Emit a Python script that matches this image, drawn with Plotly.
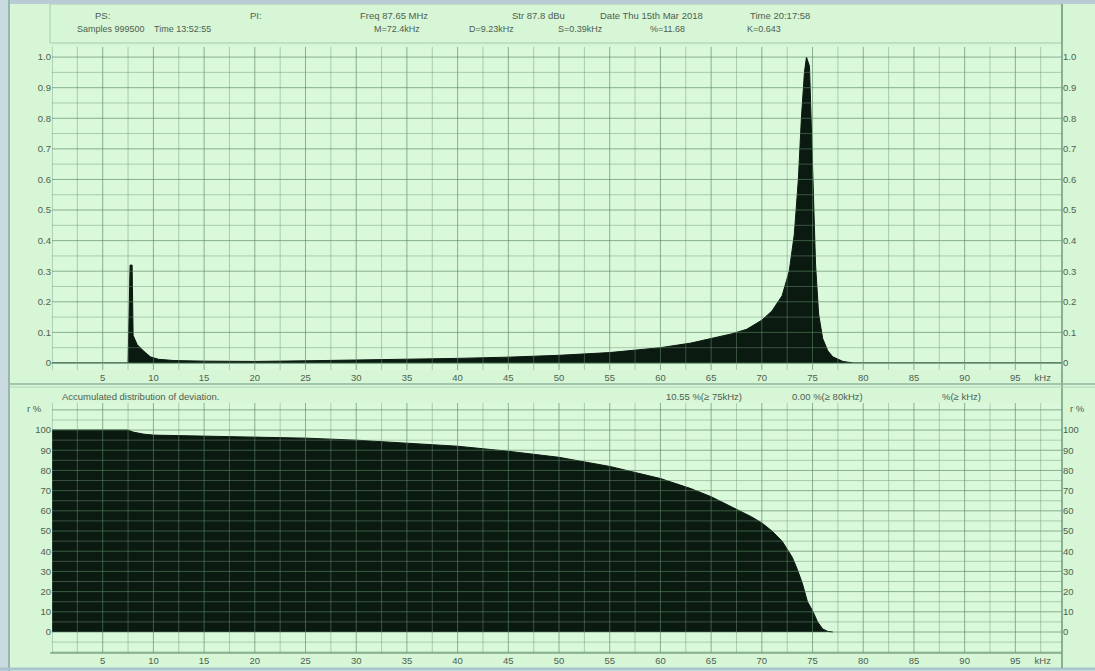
import plotly.graph_objects as go

# ---------------- data ----------------
dev_khz = [0, 7.5, 7.7, 7.9, 8.0, 8.4, 9.0, 9.7, 10.5, 12, 15, 20, 25, 30, 35, 40, 45,
           50, 55, 60, 63, 65, 67, 68.5, 70, 71, 72, 72.7, 73.2, 73.6, 73.9, 74.2,
           74.4, 74.7, 75.0, 75.3, 75.6, 76, 76.5, 77, 78, 79, 99.6]
dev_level = [0, 0, 0.32, 0.32, 0.09, 0.06, 0.04, 0.02, 0.012, 0.008, 0.006, 0.005, 0.007,
             0.009, 0.012, 0.015, 0.019, 0.025, 0.034, 0.05, 0.065, 0.08, 0.095, 0.11,
             0.14, 0.17, 0.22, 0.3, 0.42, 0.6, 0.8, 0.95, 1.0, 0.97, 0.68, 0.32, 0.16,
             0.08, 0.04, 0.02, 0.005, 0, 0]

acc_khz = [0, 7.5, 8, 9, 10, 15, 20, 25, 30, 35, 40, 45, 50, 55, 60, 63, 65, 67, 69, 70,
           71, 72, 73, 73.5, 74, 74.5, 75, 75.5, 76, 76.5, 77]
acc_pct = [100, 100, 99, 98, 97.5, 97, 96.5, 96, 95, 93.5, 92, 89.5, 86.5, 82, 76, 71, 67,
           62, 57, 54, 50, 45, 37, 31, 24, 15, 10.55, 5, 1.5, 0.3, 0]

x_tick_vals = [5, 10, 15, 20, 25, 30, 35, 40, 45, 50, 55, 60, 65, 70, 75, 80, 85, 90, 95]
x_tick_text = [str(v) for v in x_tick_vals]
x_unit = "kHz"
top_tick_vals = [0, 0.1, 0.2, 0.3, 0.4, 0.5, 0.6, 0.7, 0.8, 0.9, 1.0]
top_tick_text = ["0", "0.1", "0.2", "0.3", "0.4", "0.5", "0.6", "0.7", "0.8", "0.9", "1.0"]
bot_tick_vals = [0, 10, 20, 30, 40, 50, 60, 70, 80, 90, 100]
bot_tick_text = [str(v) for v in bot_tick_vals]

header_row1 = ["PS:", "PI:", "Freq 87.65 MHz", "Str 87.8 dBu", "Date Thu 15th Mar 2018", "Time 20:17:58"]
header_row2 = ["Samples 999500", "Time 13:52:55", "M=72.4kHz", "D=9.23kHz", "S=0.39kHz", "%=11.68", "K=0.643"]
bottom_title = "Accumulated distribution of deviation."
bottom_stats = ["10.55 %(≥ 75kHz)", "0.00 %(≥ 80kHz)", "%(≥ kHz)"]
y_unit_bottom = "r %"

# ---------------- geometry helpers ----------------
W, H = 1095, 671
def px(x):
    return x / W
def py(y):
    return 1 - y / H

X_RANGE = [0, 99.6]
TOP_RANGE = [-0.023, 1.033]
BOT_RANGE = [-10.4, 113.4]

BG = "#d6f6d6"
PLOT_BG = "#daf8da"
DARK = "#0b1a10"
TXT = "#4f604f"
FONT = dict(family="Liberation Sans, Arial, sans-serif", size=9.5, color=TXT)
FONT_S = dict(family="Liberation Sans, Arial, sans-serif", size=9, color=TXT)

fig = go.Figure()

# top panel: deviation distribution
fig.add_trace(go.Scatter(x=dev_khz, y=dev_level, mode="lines", fill="tozeroy",
                         line=dict(color=DARK, width=1), fillcolor=DARK,
                         xaxis="x", yaxis="y", hoverinfo="skip", showlegend=False))
fig.add_trace(go.Scatter(x=dev_khz, y=dev_level, mode="lines", line=dict(width=0),
                         opacity=0, xaxis="x", yaxis="y3", hoverinfo="skip", showlegend=False))
# bottom panel: accumulated distribution
fig.add_trace(go.Scatter(x=acc_khz, y=acc_pct, mode="lines", fill="tozeroy",
                         line=dict(color=DARK, width=1), fillcolor=DARK,
                         xaxis="x2", yaxis="y2", hoverinfo="skip", showlegend=False))
fig.add_trace(go.Scatter(x=acc_khz, y=acc_pct, mode="lines", line=dict(width=0),
                         opacity=0, xaxis="x2", yaxis="y4", hoverinfo="skip", showlegend=False))

top_dom = [py(370), py(47)]
bot_dom = [py(653), py(403)]
x_dom = [px(52), px(1062)]

xcommon = dict(range=X_RANGE, showgrid=False, zeroline=False, showline=False,
               tickmode="array", tickvals=x_tick_vals + [97.7], ticktext=x_tick_text + [x_unit],
               ticks="", tickfont=FONT, domain=x_dom, fixedrange=True, automargin=False)
ycommon = dict(showgrid=False, zeroline=False, ticks="", tickfont=FONT, fixedrange=True,
               tickmode="array", automargin=False)
fig.update_layout(
    width=W, height=H,
    margin=dict(l=0, r=0, t=0, b=0, pad=0),
    paper_bgcolor=BG, plot_bgcolor=PLOT_BG,
    font=FONT, showlegend=False,
    xaxis=dict(anchor="y", **xcommon),
    xaxis2=dict(anchor="y2", **xcommon),
    yaxis=dict(domain=top_dom, range=TOP_RANGE, anchor="x",
               tickvals=top_tick_vals, ticktext=top_tick_text, **ycommon),
    yaxis3=dict(range=TOP_RANGE, overlaying="y", side="right", anchor="x",
                tickvals=top_tick_vals, ticktext=top_tick_text, **ycommon),
    yaxis2=dict(domain=bot_dom, range=BOT_RANGE, anchor="x2",
                tickvals=bot_tick_vals, ticktext=bot_tick_text, **ycommon),
    yaxis4=dict(range=BOT_RANGE, overlaying="y2", side="right", anchor="x2",
                tickvals=bot_tick_vals, ticktext=bot_tick_text, **ycommon),
)

shapes = []
MAJ = "rgba(85,130,95,0.62)"
MIN = "rgba(110,150,120,0.45)"
# grid lines above traces (semi-transparent so they show on light and dark areas)
def vgrid(xref, yref):
    v = 0.0
    while v <= X_RANGE[1]:
        major = abs(v / 5 - round(v / 5)) < 1e-9
        shapes.append(dict(type="line", xref=xref, yref=yref + " domain", x0=v, x1=v, y0=0, y1=1,
                           line=dict(color=MAJ if major else MIN, width=1), layer="above"))
        v += 2.5

def hgrid(xref, yref, start, stop, step, major_step):
    v = start
    while v <= stop + 1e-9:
        major = abs(v / major_step - round(v / major_step)) < 1e-6
        shapes.append(dict(type="line", xref=xref + " domain", yref=yref, x0=0, x1=1, y0=v, y1=v,
                           line=dict(color=MAJ if major else MIN, width=1), layer="above"))
        v += step

vgrid("x", "y")
vgrid("x2", "y2")
hgrid("x", "y", 0, 1.0, 0.05, 0.1)
hgrid("x2", "y2", -10, 110, 5, 10)

# frames / separators
line_c = "#8fb59c"
shapes += [
    dict(type="rect", xref="paper", yref="paper", x0=px(50), x1=px(1062), y0=py(43), y1=py(4),
         line=dict(color="#a9c9b0", width=1), fillcolor="rgba(0,0,0,0)", layer="above"),
    dict(type="line", xref="paper", yref="paper", x0=0, x1=1, y0=py(2), y1=py(2),
         line=dict(color="#b9ccd6", width=4)),
    dict(type="line", xref="paper", yref="paper", x0=px(4), x1=px(4), y0=0, y1=1,
         line=dict(color="#c9dbe0", width=8)),
    dict(type="line", xref="paper", yref="paper", x0=px(9), x1=px(9), y0=0, y1=1,
         line=dict(color="#93b8b0", width=2)),
    dict(type="line", xref="paper", yref="paper", x0=0, x1=1, y0=py(669), y1=py(669),
         line=dict(color="#a9c3d0", width=3)),
    dict(type="line", xref="paper", yref="paper", x0=px(1062), x1=px(1062), y0=py(668), y1=py(4),
         line=dict(color="#6f9a7c", width=1.5)),
    dict(type="line", xref="paper", yref="paper", x0=px(10), x1=1, y0=py(384), y1=py(384),
         line=dict(color=line_c, width=1.5)),
    dict(type="line", xref="paper", yref="paper", x0=px(10), x1=1, y0=py(387), y1=py(387),
         line=dict(color="#b4d2bc", width=1)),
    dict(type="line", xref="paper", yref="paper", x0=px(50), x1=px(1062), y0=py(363.5), y1=py(363.5),
         line=dict(color="#7fa88c", width=1)),
    dict(type="line", xref="paper", yref="paper", x0=px(50), x1=px(1062), y0=py(653), y1=py(653),
         line=dict(color="#7fa88c", width=1.5)),
]
fig.update_layout(shapes=shapes)

ann = []
row1_x = [93, 248, 358, 510, 598, 748]
for t, x in zip(header_row1, row1_x):
    ann.append(dict(text=t, x=px(x), y=py(16), xref="paper", yref="paper", xanchor="left",
                    yanchor="middle", showarrow=False, font=FONT))
row2_x = [75, 152, 372, 467, 556, 648, 745]
for t, x in zip(header_row2, row2_x):
    ann.append(dict(text=t, x=px(x), y=py(29), xref="paper", yref="paper", xanchor="left",
                    yanchor="middle", showarrow=False, font=FONT_S))
ann.append(dict(text=bottom_title, x=px(60), y=py(396), xref="paper", yref="paper",
                xanchor="left", yanchor="middle", showarrow=False, font=FONT))
for t, x in zip(bottom_stats, [664, 790, 940]):
    ann.append(dict(text=t, x=px(x), y=py(396), xref="paper", yref="paper", xanchor="left",
                    yanchor="middle", showarrow=False, font=FONT))
ann.append(dict(text=y_unit_bottom, x=px(44), y=py(409), xref="paper", yref="paper",
                xanchor="right", yanchor="middle", showarrow=False, font=FONT))
ann.append(dict(text=y_unit_bottom, x=px(1068), y=py(409), xref="paper", yref="paper",
                xanchor="left", yanchor="middle", showarrow=False, font=FONT))
fig.update_layout(annotations=ann)

fig.write_html("out.html", config={"displayModeBar": False},
               post_script="document.body.style.margin='0';document.body.style.overflow='hidden';")
